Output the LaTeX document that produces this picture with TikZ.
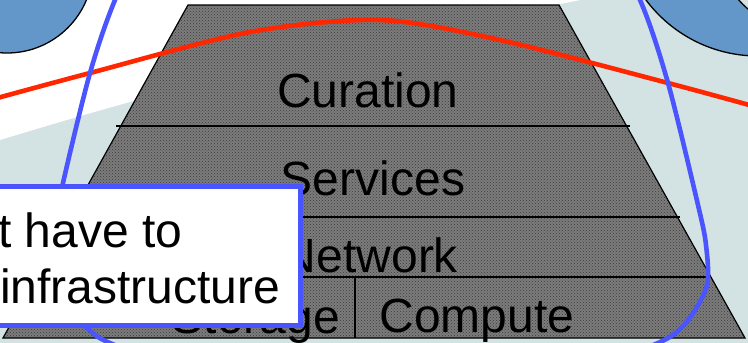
\documentclass[tikz,border=0pt]{standalone}
\usepackage{fontspec}
\setmainfont{Liberation Sans}
\usetikzlibrary{patterns}
\definecolor{bgpale}{RGB}{211,227,227}
\definecolor{discblue}{RGB}{99,151,201}
\definecolor{loopblue}{RGB}{74,84,255}
\definecolor{arcred}{RGB}{255,38,0}
\definecolor{stone}{RGB}{124,124,124}
\definecolor{stonedark}{RGB}{60,60,60}
\begin{document}
\begin{tikzpicture}[x=1pt,y=-1pt,
  layertext/.style={font=\fontsize{48}{52}\selectfont, anchor=base, inner sep=0pt},
  boxtext/.style={font=\fontsize{48}{52}\selectfont, anchor=base west, inner sep=0pt},
  divider/.style={draw=black, line width=1.2pt},
  disc/.style={fill=discblue, draw=black, line width=1.3pt},
  curve/.style={line width=4.6pt}]
\useasboundingbox (0,0) rectangle (748,343);
\clip (0,0) rectangle (748,343);
% background
\fill[bgpale] (0,0) rectangle (748,343);
\fill[white] (-5,-5) -- (-5,141) -- plot[smooth] coordinates {(0,140) (130,102) (350,45) (580,0) (650,-20)} -- (650,-5) -- cycle;
% discs
\draw[disc] (7,-33) circle[radius=86pt];
\draw[disc] (758,-84) circle[radius=140pt];
\draw[fill=bgpale, draw=black, line width=1.3pt] (805,-58) circle[radius=88pt];
% trapezoid
\coordinate (tl) at (188,5);
\coordinate (tr) at (559,5);
\coordinate (br) at (745,338);
\coordinate (bl) at (3,338);
\fill[stone] (tl) -- (tr) -- (br) -- (bl) -- cycle;
\fill[pattern=crosshatch dots, pattern color=stonedark] (tl) -- (tr) -- (br) -- (bl) -- cycle;
\draw[black, line width=1.2pt] (tl) -- (tr) -- (br) -- (bl) -- cycle;
% dividers
\coordinate (d1l) at (116,126); \coordinate (d1r) at (630,126);
\coordinate (d2l) at (66,217);  \coordinate (d2r) at (680,217);
\coordinate (d3l) at (33,277);  \coordinate (d3r) at (709,277);
\coordinate (vt) at (355,277);  \coordinate (vb) at (355,338);
\draw[divider] (d1l) -- (d1r);
\draw[divider] (d2l) -- (d2r);
\draw[divider] (d3l) -- (d3r);
\draw[divider] (vt) -- (vb);
% labels
\node[layertext] (curation) at (368,107) {Curation};
\node[layertext] (services) at (373,195) {Services};
\node[layertext] (network) at (370,272) {Network};
\node[layertext] (storage) at (256,333) {Storage};
\node[layertext] (compute) at (477,332) {Compute};
% red arc
\draw[arcred, curve] plot[smooth] coordinates {(-10,100) (90,73) (250,32) (380,20) (500,40) (668,83) (760,108)};
% blue loop
\draw[loopblue, curve] plot[smooth cycle] coordinates {(115,0) (90,73) (63,183) (50,250) (60,305) (87,328) (110,343) (200,375) (380,385) (560,375) (658,343) (688,320) (707,285) (706,245) (698,205) (668,83) (640,0) (600,-70) (380,-100) (150,-70)};
% text box
\draw[fill=white, draw=loopblue, line width=5pt] (-20,186) rectangle (300.5,325.5);
\node[boxtext] (line1) at (-2,247) {t have to};
\node[boxtext] (line2) at (0,303) {infrastructure};
\end{tikzpicture}
\end{document}
